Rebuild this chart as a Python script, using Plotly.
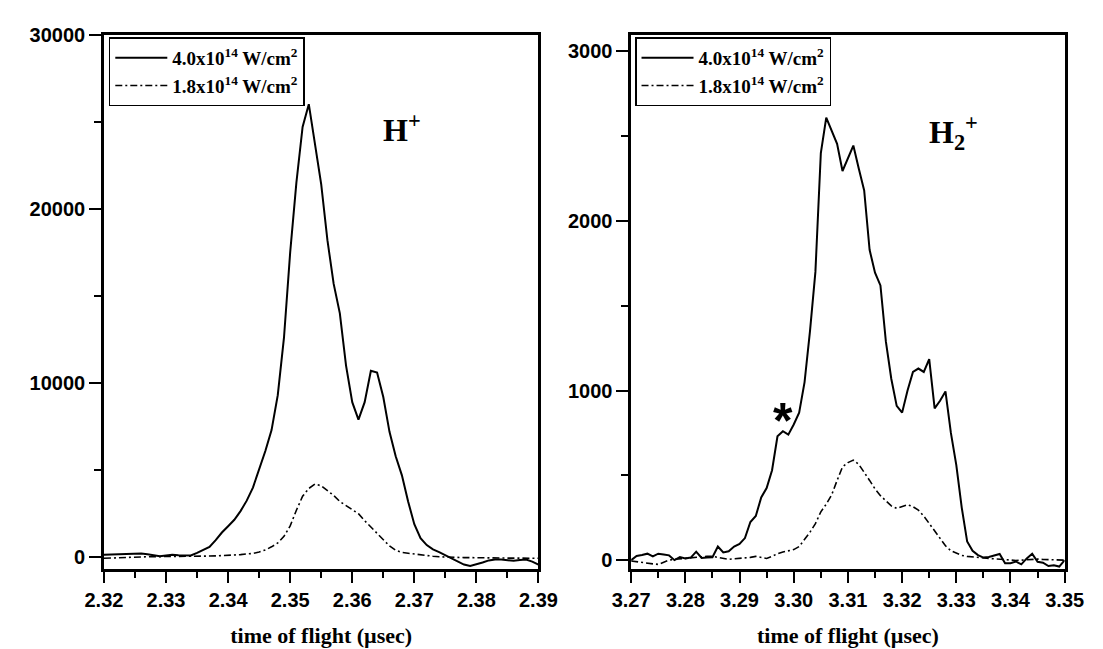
import numpy as np
import plotly.graph_objects as go

# ---------------- data ----------------
# H+ panel (time of flight in microseconds, step 0.001)
t_h = [round(2.320 + 0.001 * i, 3) for i in range(71)]
h_high = [150, 160, 180, 200, 230, 240, 220, 180, 100, 60,
          100, 140, 120, 90, 100, 250, 420, 600, 980, 1420,
          1780, 2150, 2650, 3250, 4000, 5000, 6100, 7300, 9300, 12600,
          17500, 21500, 24700, 26000, 23700, 21400, 18200, 15700, 14000, 11000,
          8900, 7900, 8900, 10700, 10600, 9200, 7200, 5800, 4700, 3200,
          1900, 1100, 700, 450, 300, 120, -80, -250, -420, -500,
          -420, -300, -180, -130, -130, -180, -200, -150, -130, -250,
          -420]
h_low = [-60, -40, -20, 0, 10, 20, 20, 30, 30, 40,
         40, 50, 50, 50, 60, 60, 70, 70, 80, 90,
         110, 130, 150, 190, 220, 300, 420, 600, 820, 1200,
         1800, 2700, 3500, 3950, 4200, 4100, 3850, 3550, 3200, 2950,
         2750, 2500, 2100, 1750, 1400, 1000, 650, 400, 280, 230,
         180, 120, 90, 60, 30, 10, 0, -10, -20, -20,
         -30, -30, -30, -40, -40, -40, -50, -50, -50, -50,
         -60]

# H2+ panel
t_h2 = [round(3.270 + 0.001 * i, 3) for i in range(81)]
h2_high = [0, 25, 30, 38, 22, 38, 33, 28, 0, 18,
           10, 15, 50, 13, 15, 17, 80, 45, 52, 80,
           95, 130, 225, 260, 370, 425, 530, 730, 760, 740,
           800, 870, 1050, 1350, 1700, 2400, 2610, 2530, 2455, 2295,
           2370, 2445, 2310, 2180, 1830, 1695, 1620, 1290, 1070, 910,
           870, 1000, 1110, 1130, 1110, 1186, 895, 940, 995, 750,
           560, 310, 110, 55, 30, 15, 18, 25, 36, -18,
           -18, -8, -25, 10, 38, -10, -15, -35, -30, -38,
           0]
h2_low = [-5, -10, -15, -18, -22, -25, -12, 0, 5, 8,
          12, 15, 18, 20, 22, 22, 15, 8, 5, 8,
          10, 13, 16, 22, 18, 10, 22, 38, 48, 55,
          62, 80, 120, 165, 215, 285, 330, 385, 470, 550,
          575, 590, 565, 520, 470, 420, 380, 350, 320, 305,
          315, 327, 315, 295, 260, 215, 170, 125, 85, 55,
          40, 28, 22, 18, 15, 12, 10, 8, 5, 3,
          0, -2, 0, 3, 5, 6, 4, 2, 0, -2,
          0]

legend_high = "4.0x10<sup>14</sup> W/cm<sup>2</sup>"
legend_low = "1.8x10<sup>14</sup> W/cm<sup>2</sup>"
x_title = "time of flight (\u00b5sec)"

# ---------------- figure ----------------
W, H = 1103, 649
fig = go.Figure()

dashdot = "7px,3px,2px,3px"

fig.add_trace(go.Scatter(x=t_h, y=h_high, mode="lines", name=legend_high,
                         line=dict(color="black", width=2), xaxis="x", yaxis="y",
                         legend="legend"))
fig.add_trace(go.Scatter(x=t_h, y=h_low, mode="lines", name=legend_low,
                         line=dict(color="black", width=1.6, dash=dashdot), xaxis="x", yaxis="y",
                         legend="legend"))
fig.add_trace(go.Scatter(x=t_h2, y=h2_high, mode="lines", name=legend_high,
                         line=dict(color="black", width=2), xaxis="x2", yaxis="y2",
                         legend="legend2"))
fig.add_trace(go.Scatter(x=t_h2, y=h2_low, mode="lines", name=legend_low,
                         line=dict(color="black", width=1.6, dash=dashdot), xaxis="x2", yaxis="y2",
                         legend="legend2"))

tickfont = dict(family="Liberation Sans, Arial", size=20, color="black", weight="bold")
titlefont = dict(family="Liberation Serif, Times New Roman", size=22, color="black", weight="bold")
legfont = dict(family="Liberation Serif, Times New Roman", size=19, color="black", weight="bold")
annfont = dict(family="Liberation Serif, Times New Roman", size=32, color="black", weight="bold")

ydom = [1 - 569 / H, 1 - 24 / H]

def xaxis_cfg(domain, rng, anchor):
    return dict(domain=domain, range=rng, anchor=anchor, dtick=0.01, tickformat=".2f",
                ticks="outside", ticklen=12, tickwidth=2.2, tickcolor="black",
                minor=dict(dtick=0.005, ticks="outside", ticklen=7, tickwidth=2.2, tickcolor="black"),
                showline=True, linewidth=2.5, linecolor="black", mirror=True,
                showgrid=False, zeroline=False, tickfont=tickfont,
                title=dict(text=x_title, font=titlefont, standoff=18))

def yaxis_cfg(rng, dtick, anchor):
    return dict(domain=ydom, range=rng, anchor=anchor, dtick=dtick, tick0=0, tickformat="d",
                ticks="outside", ticklen=12, tickwidth=2.2, tickcolor="black",
                minor=dict(dtick=dtick / 2, ticks="outside", ticklen=7, tickwidth=2.2, tickcolor="black"),
                showline=True, linewidth=2.5, linecolor="black", mirror=True,
                showgrid=False, zeroline=False, tickfont=tickfont)

fig.update_layout(
    width=W, height=H,
    margin=dict(l=0, r=0, t=0, b=0),
    paper_bgcolor="white", plot_bgcolor="white",
    xaxis=xaxis_cfg([88 / W, 538 / W], [2.32, 2.39], "y"),
    yaxis=yaxis_cfg([-650, 30000], 10000, "x"),
    xaxis2=xaxis_cfg([634 / W, 1083 / W], [3.27, 3.35], "y2"),
    yaxis2=yaxis_cfg([-50, 3100], 1000, "x2"),
    legend=dict(x=93 / W, y=1 - 27 / H, xanchor="left", yanchor="top",
                bordercolor="black", borderwidth=1.5, bgcolor="white",
                font=legfont, itemwidth=52),
    legend2=dict(x=638 / W, y=1 - 27 / H, xanchor="left", yanchor="top",
                 bordercolor="black", borderwidth=1.5, bgcolor="white",
                 font=legfont, itemwidth=52),
    annotations=[
        dict(x=2.3680, y=24620, xref="x", yref="y", text="H<sup>+</sup>", showarrow=False,
             font=annfont),
        dict(x=3.3295, y=2520, xref="x2", yref="y2", text="H<sub>2</sub><sup>+</sup>", showarrow=False,
             font=annfont),
        dict(x=3.2980, y=852, xref="x2", yref="y2", text="*", showarrow=False, yshift=-5,
             font=dict(family="Liberation Sans, Arial", size=50, color="black", weight="bold")),
    ],
)

fig.write_html("out.html", config={"displayModeBar": False},
               post_script="document.body.style.margin='0';")
